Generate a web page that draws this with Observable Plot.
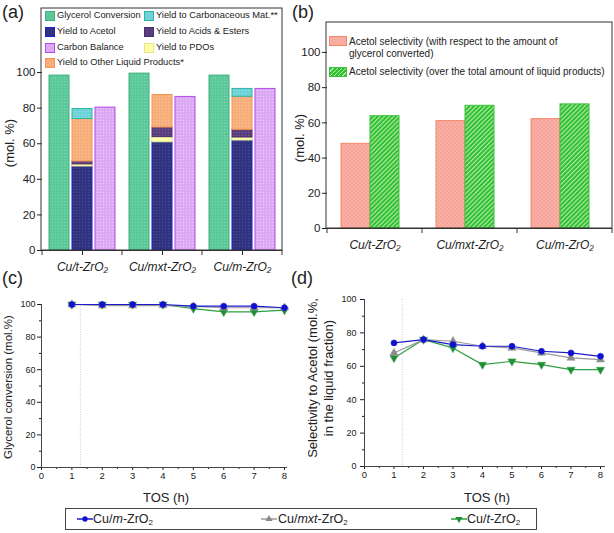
<!DOCTYPE html>
<html><head><meta charset="utf-8">
<script src="https://cdn.jsdelivr.net/npm/d3@7"></script>
<script src="https://cdn.jsdelivr.net/npm/@observablehq/plot@0.6"></script>
<style>
body{margin:0;background:#fff;font-family:"Liberation Sans",Arial,sans-serif;color:#222;}
#root{position:relative;width:614px;height:533px;overflow:hidden;background:#fff;}
.abs{position:absolute;}
.plab{position:absolute;font-size:18px;line-height:1;color:#222;}
.rot{position:absolute;transform:translate(-50%,-50%) rotate(-90deg);white-space:nowrap;text-align:center;color:#222;}
.ctr{position:absolute;transform:translate(-50%,-50%);white-space:nowrap;color:#222;}
.leg{position:absolute;white-space:nowrap;line-height:1;}
.sw{position:absolute;box-sizing:border-box;}
</style></head><body><div id="root"></div>
<script>
// ---------------- data ----------------
const catalysts = ["Cu/t-ZrO2", "Cu/mxt-ZrO2", "Cu/m-ZrO2"];
const catalystLabels = ["Cu/t-ZrO₂", "Cu/mxt-ZrO₂", "Cu/m-ZrO₂"];
// panel (a)
const glycerolConversion = [98.3, 99.4, 98.3];
const yieldAcetol = [47.2, 60.8, 61.8];
const yieldPDOs = [1.2, 2.9, 1.7];
const yieldAcidsEsters = [1.6, 5.4, 4.3];
const yieldOtherLiquid = [23.9, 18.3, 18.6];
const yieldCarbonaceous = [5.6, 0, 4.4];
const carbonBalance = [80.3, 86.3, 90.8];
// panel (b)
const selConverted = [48.1, 61.0, 62.1];
const selLiquid = [63.8, 69.7, 70.5];
// panels (c), (d)
const tos = [1, 2, 3, 4, 5, 6, 7, 8];
const seriesNames = ["Cu/m-ZrO2", "Cu/mxt-ZrO2", "Cu/t-ZrO2"];
const convM = [100, 100, 100, 100, 99, 99, 99, 98];
const convMxt = [100, 99.3, 99.3, 99.5, 98.8, 98, 98, 98];
const convT = [100, 100, 100, 100, 97.5, 95.5, 95.5, 96.5];
const selM = [74, 76, 73, 72, 72, 69, 68, 66];
const selMxt = [68, 76, 75, 72, 71, 68, 65, 64];
const selT = [65, 76, 71, 61, 63, 61, 58, 58];
const guideTos = [1.28];
const yTicks = [0, 20, 40, 60, 80, 100];

// ---------------- styles ----------------
const compA = [
  {key: "Glycerol Conversion", bar: "conv", vals: glycerolConversion},
  {key: "Yield to Acetol", bar: "stack", vals: yieldAcetol},
  {key: "Yield to PDOs", bar: "stack", vals: yieldPDOs},
  {key: "Yield to Acids & Esters", bar: "stack", vals: yieldAcidsEsters},
  {key: "Yield to Other Liquid Products*", bar: "stack", vals: yieldOtherLiquid},
  {key: "Yield to Carbonaceous Mat.**", bar: "stack", vals: yieldCarbonaceous},
  {key: "Carbon Balance", bar: "cb", vals: carbonBalance}
];
const aFill = {
  "Glycerol Conversion": "#5cc99a", "Yield to Acetol": "#30347f", "Yield to PDOs": "#ffffa6",
  "Yield to Acids & Esters": "#5a3e7e", "Yield to Other Liquid Products*": "#f7ae7a",
  "Yield to Carbonaceous Mat.**": "#6dd3d8", "Carbon Balance": "#dca8f3"
};
const aDot = {
  "Glycerol Conversion": "#7fd7b0", "Yield to Acetol": "#4a4e9a", "Yield to PDOs": "#ffffc8",
  "Yield to Acids & Esters": "#725a92", "Yield to Other Liquid Products*": "#f9c59c",
  "Yield to Carbonaceous Mat.**": "#92e0e3", "Carbon Balance": "#ecccf9"
};
const aStroke = {
  "Glycerol Conversion": "#3dae7c", "Yield to Acetol": "#1a1ad0", "Yield to PDOs": "#e6e690",
  "Yield to Acids & Esters": "#4a2b6e", "Yield to Other Liquid Products*": "#f39450",
  "Yield to Carbonaceous Mat.**": "#2fb4a0", "Carbon Balance": "#b44ce6"
};
const lineColor = {"Cu/m-ZrO2": "#1a1acc", "Cu/mxt-ZrO2": "#9a9a9a", "Cu/t-ZrO2": "#2ea043"};
const dotFill = {"Cu/m-ZrO2": "#1010d0", "Cu/mxt-ZrO2": "#8a8a8a", "Cu/t-ZrO2": "#1f8f35"};
const dotSymbol = {"Cu/m-ZrO2": "circle", "Cu/mxt-ZrO2": "triangle", "Cu/t-ZrO2": "triangle"};
const dotRotate = {"Cu/m-ZrO2": 0, "Cu/mxt-ZrO2": 0, "Cu/t-ZrO2": 180};

const root = document.getElementById("root");
function place(el, left, top) {
  const d = document.createElement("div");
  d.className = "abs"; d.style.left = left + "px"; d.style.top = top + "px";
  d.appendChild(el); root.appendChild(d); return d;
}
function html(cls, style, inner) {
  const d = document.createElement("div"); d.className = cls;
  Object.assign(d.style, style); d.innerHTML = inner; root.appendChild(d); return d;
}
function frameBox(svg, plot) {
  const fx = plot.scale("fx"), y = plot.scale("y");
  const x0 = fx.range[0], x1 = fx.range[1], y0 = y.range[0], y1 = y.range[1];
  const g = d3.select(svg).append("g").attr("fill", "none").attr("stroke", "#333");
  g.append("rect").attr("x", x0).attr("y", y1).attr("width", x1 - x0).attr("height", y0 - y1);
  const bw = fx.bandwidth;
  const edges = catalysts.map(c => fx.apply(c)).concat([fx.apply(catalysts[2]) + bw]);
  for (const e of edges) g.append("line").attr("x1", e).attr("x2", e).attr("y1", y0).attr("y2", y0 + 5);
}
const patId = k => "pat" + compA.findIndex(c => c.key === k);

// ---------------- panel (a) ----------------
const aRows = [];
catalysts.forEach((c, i) => {
  for (const comp of compA) if (comp.vals[i] > 0) aRows.push({cat: c, bar: comp.bar, comp: comp.key, v: comp.vals[i]});
});
const pa = Plot.plot({
  width: 300, height: 280, marginLeft: 41, marginRight: 18, marginTop: 8, marginBottom: 30,
  style: {fontFamily: "Liberation Sans, Arial, sans-serif", color: "#222", background: "transparent"},
  fx: {domain: catalysts, padding: 0, label: null},
  x: {domain: ["conv", "stack", "cb"], paddingInner: 0.125, paddingOuter: 0.235, axis: null},
  y: {domain: [0, 136], axis: null},
  color: {type: "identity"},
  marks: [
    Plot.barY(aRows, {fx: "cat", x: "bar", y: "v", fill: d => `url(#${patId(d.comp)})`, stroke: d => aStroke[d.comp], strokeWidth: 1}),
    Plot.ruleY([0], {stroke: "#333"}),
    Plot.axisY({ticks: yTicks, tickSize: 5, tickPadding: 2, fontSize: 11.5, label: null}),
    Plot.axisFx({anchor: "bottom", tickFormat: d => catalystLabels[catalysts.indexOf(d)], fontStyle: "italic", fontSize: 12, tickSize: 5, tickPadding: 7, label: null})
  ]
});
d3.select(pa).insert("defs", ":first-child").html(compA.map(c => `
  <pattern id="${patId(c.key)}" patternUnits="userSpaceOnUse" width="3" height="3">
    <rect width="3" height="3" fill="${aFill[c.key]}"/>
    <rect width="1" height="1" fill="${aDot[c.key]}"/>
  </pattern>`).join(""));
frameBox(pa, pa);
place(pa, 0, 0);

// ---------------- panel (b) ----------------
const bRows = catalysts.flatMap((c, i) => [
  {cat: c, kind: "conv", v: selConverted[i]},
  {cat: c, kind: "liq", v: selLiquid[i]}
]);
const pb = Plot.plot({
  width: 314, height: 280, marginLeft: 26, marginRight: 2, marginTop: 22, marginBottom: 52,
  style: {fontFamily: "Liberation Sans, Arial, sans-serif", color: "#222", background: "transparent"},
  fx: {domain: catalysts, padding: 0, label: null},
  x: {domain: ["conv", "liq"], paddingInner: 0, paddingOuter: 0.59, align: 0.38, axis: null},
  y: {domain: [0, 117], axis: null},
  color: {type: "identity"},
  marks: [
    Plot.barY(bRows, {fx: "cat", x: "kind", y: "v",
      fill: d => d.kind === "conv" ? "url(#pinkTex)" : "url(#greenHatch)",
      stroke: d => d.kind === "conv" ? "#f3876a" : "#3cc23c", strokeWidth: 1}),
    Plot.ruleY([0], {stroke: "#333"}),
    Plot.axisY({ticks: yTicks, tickSize: 5, tickPadding: 2, fontSize: 11.5, label: null}),
    Plot.axisFx({anchor: "bottom", tickFormat: d => catalystLabels[catalysts.indexOf(d)], fontStyle: "italic", fontSize: 12, tickSize: 0, tickPadding: 12, label: null})
  ]
});
d3.select(pb).insert("defs", ":first-child").html(`
  <pattern id="greenHatch" patternUnits="userSpaceOnUse" width="3.2" height="3.2" patternTransform="rotate(45)">
    <rect width="3.2" height="3.2" fill="#2fbf2f"/>
    <rect width="1.1" height="3.2" fill="#b6ecae"/>
  </pattern>
  <pattern id="pinkTex" patternUnits="userSpaceOnUse" width="4" height="4">
    <rect width="4" height="4" fill="#f9b0a6"/>
    <rect width="2" height="2" fill="#f7a397"/>
    <rect x="2" y="2" width="2" height="2" fill="#f7a397"/>
  </pattern>`);
frameBox(pb, pb);
place(pb, 300, 0);

// ---------------- panels (c), (d) ----------------
function longRows(m, mxt, t) {
  const arr = [m, mxt, t];
  return seriesNames.flatMap((s, k) => tos.map((h, i) => ({s, t: h, v: arr[k][i]})));
}
function linePanel(rows, opts) {
  const drawOrder = ["Cu/t-ZrO2", "Cu/mxt-ZrO2", "Cu/m-ZrO2"];
  const marks = [
    Plot.ruleX(guideTos, {stroke: "#c6c6e4", strokeDasharray: "1,1.5"}),
    Plot.axisY({ticks: yTicks, tickSize: 4, tickPadding: opts.ytp, fontSize: 9, label: null}),
    Plot.axisY({ticks: [10, 30, 50, 70, 90], tickSize: 2, tickFormat: () => "", label: null}),
    Plot.axisX({ticks: d3.range(0, 9), tickSize: 3, tickPadding: 1.5, fontSize: 9.5, label: null}),
    Plot.axisX({ticks: d3.range(0.5, 8.1, 1), tickSize: 2, tickFormat: () => "", label: null}),
    Plot.ruleX([0], {stroke: "#444"}),
    Plot.ruleY([0], {stroke: "#444"})
  ];
  for (const s of drawOrder) {
    const sr = rows.filter(d => d.s === s);
    marks.push(Plot.line(sr, {x: "t", y: "v", stroke: lineColor[s], strokeWidth: 1.2}));
  }
  for (const s of drawOrder) {
    const sr = rows.filter(d => d.s === s);
    marks.push(Plot.dot(sr, {x: "t", y: "v", symbol: dotSymbol[s], rotate: dotRotate[s], r: 3, fill: dotFill[s], stroke: lineColor[s], strokeWidth: 0.6}));
  }
  return Plot.plot({
    width: opts.width, height: 225, marginLeft: opts.ml, marginRight: opts.mr, marginTop: opts.mt, marginBottom: opts.mb,
    style: {fontFamily: "Liberation Sans, Arial, sans-serif", color: "#222", background: "transparent"},
    x: {domain: opts.xd, axis: null},
    y: {domain: [0, 100], axis: null},
    marks
  });
}
const pc = linePanel(longRows(convM, convMxt, convT), {width: 300, ml: 41, mr: 13, mt: 24, mb: 38, xd: [0, 8.1], ytp: 2});
place(pc, 0, 280);
const pd = linePanel(longRows(selM, selMxt, selT), {width: 314, ml: 64, mr: 9, mt: 19, mb: 39, xd: [0, 8.17], ytp: 4});
place(pd, 300, 280);

// ---------------- texts ----------------
html("plab", {left: "2px", top: "3px"}, "(a)");
html("plab", {left: "292px", top: "3px"}, "(b)");
html("plab", {left: "2px", top: "269px"}, "(c)");
html("plab", {left: "291px", top: "269px"}, "(d)");
html("rot", {left: "9px", top: "143px", fontSize: "13px"}, "(mol. %)");
html("rot", {left: "299px", top: "138px", fontSize: "13px"}, "(mol. %)");
html("rot", {left: "8px", top: "387px", fontSize: "11.5px"}, "Glycerol conversion (mol.%)");
html("rot", {left: "321px", top: "378px", fontSize: "13px", lineHeight: "16px"}, "Selectivity to Acetol (mol.%,<br>in the liquid fraction)");
html("ctr", {left: "166px", top: "497px", fontSize: "13px"}, "TOS (h)");
html("ctr", {left: "487px", top: "497px", fontSize: "13px"}, "TOS (h)");

// legend (a)
const legA = [
  ["Glycerol Conversion", 45, 16], ["Yield to Acetol", 45, 32], ["Carbon Balance", 45, 48],
  ["Yield to Other Liquid Products*", 45, 63],
  ["Yield to Carbonaceous Mat.**", 144, 16], ["Yield to Acids & Esters", 144, 32], ["Yield to PDOs", 144, 48]
];
for (const [k, x, y] of legA) {
  html("sw", {left: x + "px", top: (y - 5) + "px", width: "10px", height: "10px", background: aFill[k], border: "1px solid " + aStroke[k]}, "");
  html("leg", {left: (x + 12) + "px", top: (y - 5.5) + "px", fontSize: "9.3px"}, k.replace("&", "&amp;"));
}
// legend (b)
html("sw", {left: "329px", top: "36px", width: "18px", height: "10px", background: "#f9aca2", border: "1px solid #f3876a"}, "");
html("leg", {left: "349px", top: "35.5px", fontSize: "10px", lineHeight: "12.5px"}, "Acetol selectivity (with respect to the amount of<br>glycerol converted)");
html("sw", {left: "329px", top: "67px", width: "18px", height: "10px", background: "repeating-linear-gradient(-45deg,#2fbf2f 0 2px,#b6ecae 2px 3px)", border: "1px solid #3cc23c"}, "");
html("leg", {left: "349px", top: "66.5px", fontSize: "10px"}, "Acetol selectivity (over the total amount of liquid products)");

// bottom legend
html("abs", {left: "65px", top: "508px", width: "472px", height: "22px", border: "1px solid #444", boxSizing: "border-box"}, "");
const legItems = [
  ["Cu/m-ZrO2", 77, 93, "Cu/<i>m</i>-ZrO<sub>2</sub>"],
  ["Cu/mxt-ZrO2", 261, 278, "Cu/<i>mxt</i>-ZrO<sub>2</sub>"],
  ["Cu/t-ZrO2", 451, 467, "Cu/<i>t</i>-ZrO<sub>2</sub>"]
];
for (const [s, x, tx, label] of legItems) {
  const svg = d3.create("svg").attr("width", 16).attr("height", 10);
  svg.append("line").attr("x1", 0).attr("x2", 16).attr("y1", 5).attr("y2", 5).attr("stroke", lineColor[s]).attr("stroke-width", 1.5);
  const sym = s === "Cu/m-ZrO2" ? d3.symbolCircle : d3.symbolTriangle;
  svg.append("path").attr("d", d3.symbol(sym, 22)()).attr("transform", `translate(8,5) rotate(${dotRotate[s]})`).attr("fill", dotFill[s]);
  const d = svg.node(); d.style.position = "absolute"; d.style.left = x + "px"; d.style.top = "514px";
  root.appendChild(d);
  html("leg", {left: tx + "px", top: "512px", fontSize: "12.5px", lineHeight: "14px"}, label.replace("<sub>", '<sub style="font-size:8px;vertical-align:-2px">'));
}
</script></body></html>
